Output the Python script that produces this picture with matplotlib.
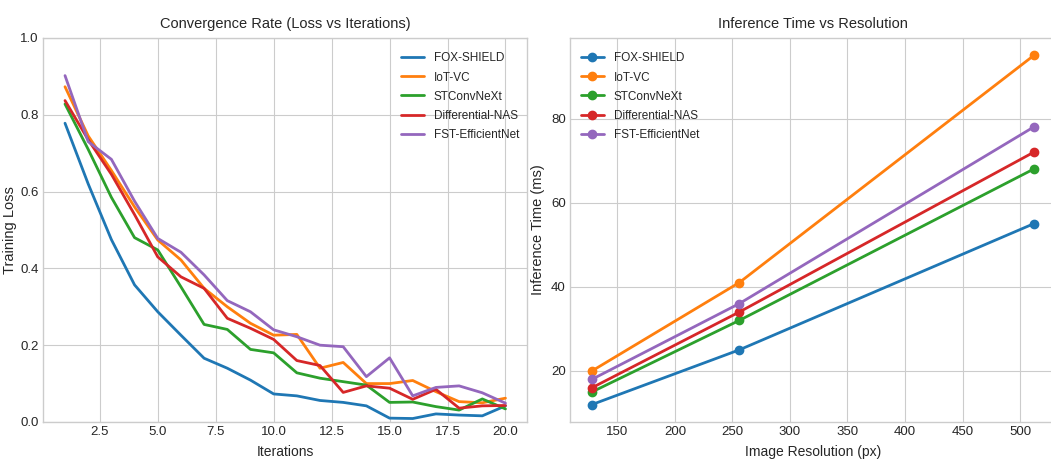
import matplotlib
matplotlib.use("Agg")
import matplotlib.pyplot as plt
from matplotlib import font_manager

plt.style.use("seaborn-v0_8-whitegrid")
names = {f.name for f in font_manager.fontManager.ttflist}
fam = ["Liberation Sans Narrow", "Liberation Sans", "DejaVu Sans"]
fam = [f for f in fam if f in names] or ["DejaVu Sans"]
plt.rcParams["font.family"] = fam

models = ["FOX-SHIELD", "IoT-VC", "STConvNeXt", "Differential-NAS", "FST-EfficientNet"]
colors = ["#1f77b4", "#ff7f0e", "#2ca02c", "#d62728", "#9467bd"]

iterations = list(range(1, 21))
loss_fox = [0.778, 0.62, 0.475, 0.357, 0.287, 0.226, 0.166, 0.14, 0.109, 0.073,
            0.068, 0.056, 0.051, 0.042, 0.010, 0.009, 0.021, 0.018, 0.016, 0.042]
loss_iot = [0.873, 0.745, 0.655, 0.56, 0.474, 0.422, 0.348, 0.30, 0.257, 0.226,
            0.228, 0.14, 0.155, 0.10, 0.10, 0.108, 0.079, 0.053, 0.05, 0.062]
loss_stc = [0.828, 0.71, 0.585, 0.48, 0.448, 0.352, 0.254, 0.241, 0.189, 0.18,
            0.128, 0.114, 0.105, 0.096, 0.051, 0.052, 0.04, 0.031, 0.06, 0.034]
loss_nas = [0.837, 0.735, 0.645, 0.54, 0.43, 0.378, 0.348, 0.27, 0.244, 0.215,
            0.16, 0.147, 0.077, 0.094, 0.088, 0.059, 0.085, 0.036, 0.042, 0.043]
loss_fst = [0.902, 0.73, 0.684, 0.575, 0.478, 0.442, 0.383, 0.316, 0.287, 0.24,
            0.222, 0.20, 0.196, 0.118, 0.167, 0.068, 0.09, 0.094, 0.076, 0.049]
losses = [loss_fox, loss_iot, loss_stc, loss_nas, loss_fst]

resolutions = [128, 256, 512]
time_fox = [12, 25, 55]
time_iot = [20, 41, 95]
time_stc = [15, 32, 68]
time_nas = [16, 34, 72]
time_fst = [18, 36, 78]
times = [time_fox, time_iot, time_stc, time_nas, time_fst]

fig = plt.figure(figsize=(10.51, 4.63), dpi=100)
ax1 = fig.add_axes([0.0409, 0.0886, 0.461, 0.8294])
ax2 = fig.add_axes([0.5423, 0.0886, 0.4624, 0.8294])

for m, c, l in zip(models, colors, losses):
    ax1.plot(iterations, l, color=c, lw=2, label=m)
ax1.set_ylim(0, 1.0)
ax1.set_title("Convergence Rate (Loss vs Iterations)", fontsize=10.5, pad=7)
ax1.set_xlabel("Iterations", fontsize=10, labelpad=5)
ax1.set_ylabel("Training Loss", fontsize=10.5)
ax1.yaxis.set_label_coords(-0.054, 0.5)
ax1.legend(loc="upper right", fontsize=8.5, handlelength=2.0,
           bbox_to_anchor=(1.005, 0.99), labelspacing=0.6)
ax1.tick_params(labelsize=9.5, pad=3)

for m, c, t in zip(models, colors, times):
    ax2.plot(resolutions, t, color=c, lw=2, marker="o", ms=6, label=m)
ax2.set_title("Inference Time vs Resolution", fontsize=10.5, pad=7)
ax2.set_xlabel("Image Resolution (px)", fontsize=10, labelpad=5)
ax2.set_ylabel("Inference Time (ms)", fontsize=10.5)
ax2.yaxis.set_label_coords(-0.052, 0.5)
ax2.legend(loc="upper left", fontsize=8.5, handlelength=2.0, labelspacing=0.6,
           bbox_to_anchor=(0.0, 0.99))
ax2.tick_params(labelsize=9.5, pad=3)

for ax in (ax1, ax2):
    for s in ax.spines.values():
        s.set_visible(True)
        s.set_color("#cccccc")

fig.savefig("out.png", dpi=100)
